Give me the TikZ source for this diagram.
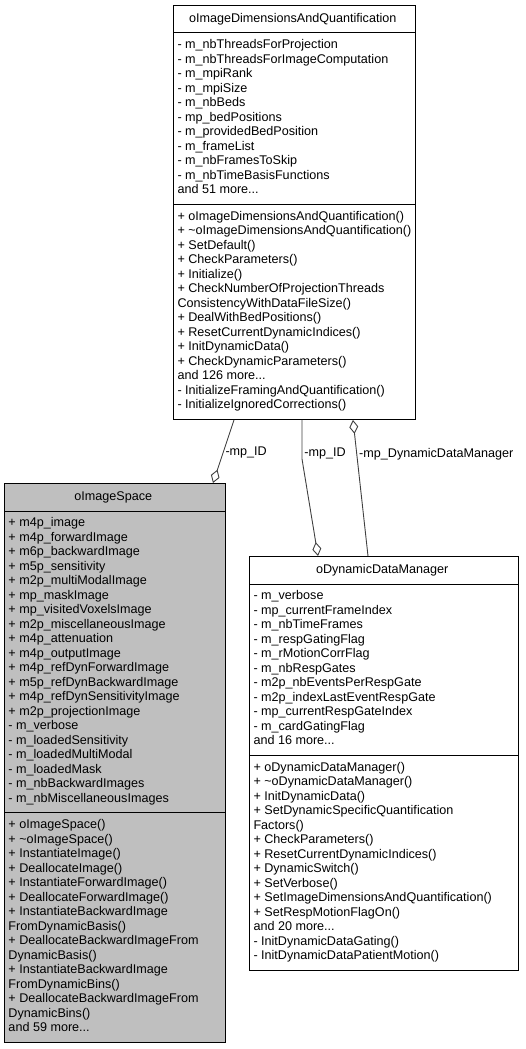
\documentclass[tikz,border=0pt]{standalone}
\usepackage{fontspec}
\setmainfont{Liberation Sans}
\usetikzlibrary{shapes.multipart,arrows.meta,calc}
\definecolor{dxfill}{HTML}{BFBFBF}
\definecolor{dxedge}{HTML}{404040}
\tikzset{
  umlclass/.style={draw=black, line width=1pt, rectangle split, rectangle split parts=3,
    rectangle split part align={center,left,left}, align=left, anchor=north west,
    inner xsep=4pt, inner ysep=6pt, font=\fontsize{12.6}{14.5}\selectfont,
    execute at begin node=\strut, execute at end node=\strut},
  umledge/.style={draw=dxedge, line width=.9pt},
  haspart/.style={-{Diamond[open,length=14pt,width=9pt]}},
  edgelabel/.style={font=\fontsize{12.6}{14.5}\selectfont, inner sep=2pt}
}

\begin{document}
\begin{tikzpicture}[x=1pt,y=-1pt]
\useasboundingbox (0,0) rectangle (525,1049);
\node[umlclass, minimum width=239pt] (imgdim) at (173,5) {oImageDimensionsAndQuantification
\nodepart{two}- m\_nbThreadsForProjection\\
- m\_nbThreadsForImageComputation\\
- m\_mpiRank\\
- m\_mpiSize\\
- m\_nbBeds\\
- mp\_bedPositions\\
- m\_providedBedPosition\\
- m\_frameList\\
- m\_nbFramesToSkip\\
- m\_nbTimeBasisFunctions\\
and 51 more...
\nodepart{three}+ oImageDimensionsAndQuantification()\\
+ \textasciitilde oImageDimensionsAndQuantification()\\
+ SetDefault()\\
+ CheckParameters()\\
+ Initialize()\\
+ CheckNumberOfProjectionThreads\\
ConsistencyWithDataFileSize()\\
+ DealWithBedPositions()\\
+ ResetCurrentDynamicIndices()\\
+ InitDynamicData()\\
+ CheckDynamicParameters()\\
and 126 more...\\
- InitializeFramingAndQuantification()\\
- InitializeIgnoredCorrections()};
\node[umlclass, fill=dxfill, minimum width=221pt] (imgspace) at (4,483) {oImageSpace
\nodepart{two}+ m4p\_image\\
+ m4p\_forwardImage\\
+ m6p\_backwardImage\\
+ m5p\_sensitivity\\
+ m2p\_multiModalImage\\
+ mp\_maskImage\\
+ mp\_visitedVoxelsImage\\
+ m2p\_miscellaneousImage\\
+ m4p\_attenuation\\
+ m4p\_outputImage\\
+ m4p\_refDynForwardImage\\
+ m5p\_refDynBackwardImage\\
+ m4p\_refDynSensitivityImage\\
+ m2p\_projectionImage\\
- m\_verbose\\
- m\_loadedSensitivity\\
- m\_loadedMultiModal\\
- m\_loadedMask\\
- m\_nbBackwardImages\\
- m\_nbMiscellaneousImages
\nodepart{three}+ oImageSpace()\\
+ \textasciitilde oImageSpace()\\
+ InstantiateImage()\\
+ DeallocateImage()\\
+ InstantiateForwardImage()\\
+ DeallocateForwardImage()\\
+ InstantiateBackwardImage\\
FromDynamicBasis()\\
+ DeallocateBackwardImageFrom\\
DynamicBasis()\\
+ InstantiateBackwardImage\\
FromDynamicBins()\\
+ DeallocateBackwardImageFrom\\
DynamicBins()\\
and 59 more...};
\node[umlclass, minimum width=269pt] (dynmgr) at (249,556) {oDynamicDataManager
\nodepart{two}- m\_verbose\\
- mp\_currentFrameIndex\\
- m\_nbTimeFrames\\
- m\_respGatingFlag\\
- m\_rMotionCorrFlag\\
- m\_nbRespGates\\
- m2p\_nbEventsPerRespGate\\
- m2p\_indexLastEventRespGate\\
- mp\_currentRespGateIndex\\
- m\_cardGatingFlag\\
and 16 more...
\nodepart{three}+ oDynamicDataManager()\\
+ \textasciitilde oDynamicDataManager()\\
+ InitDynamicData()\\
+ SetDynamicSpecificQuantification\\
Factors()\\
+ CheckParameters()\\
+ ResetCurrentDynamicIndices()\\
+ DynamicSwitch()\\
+ SetVerbose()\\
+ SetImageDimensionsAndQuantification()\\
+ SetRespMotionFlagOn()\\
and 20 more...\\
- InitDynamicDataGating()\\
- InitDynamicDataPatientMotion()};
\draw[umledge,haspart] ($(imgdim.south west)+(61,0)$) -- node[edgelabel,right,pos=.52]{-mp\_ID} ($(imgspace.north west)+(209,0)$);
\draw[umledge,haspart] ($(imgdim.south west)+(129,0)$) -- node[edgelabel,right,pos=.87]{-mp\_ID} ++(0,39) -- ($(dynmgr.north west)+(69,0)$);
\draw[umledge,haspart] ($(dynmgr.north west)+(119,0)$) -- node[edgelabel,right,pos=.75]{-mp\_DynamicDataManager} ($(imgdim.south west)+(180,0)$);
\end{tikzpicture}
\end{document}
